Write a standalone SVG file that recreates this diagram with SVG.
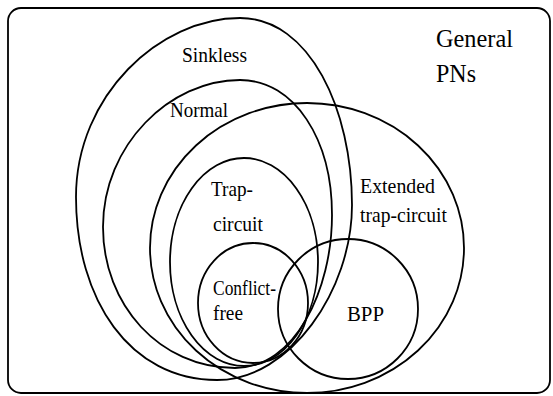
<svg xmlns="http://www.w3.org/2000/svg" width="553" height="396" viewBox="0 0 553 396">
<style>
.s{fill:none;stroke:#000;stroke-width:1.8}
.l{font-size:22px}
.g{font-size:26px}
</style>
<rect width="553" height="396" fill="#fff"/>
<g font-family="'Liberation Serif', 'Times New Roman', serif" fill="#000">
<g id="general">
<rect class="s" x="8" y="8" width="542" height="385" rx="13"/>
<text class="g" x="436" y="47" textLength="77" lengthAdjust="spacingAndGlyphs">General</text>
<text class="g" x="436" y="82" textLength="40" lengthAdjust="spacingAndGlyphs">PNs</text>
</g>
<g id="sinkless">
<path class="s" d="M240,18 C310,18 352,110 352,205 C352,290 290,380 217,380 C130,380 76,300 76,197 C76,95 160,18 240,18 Z"/>
<text class="l" x="182" y="62" textLength="65" lengthAdjust="spacingAndGlyphs">Sinkless</text>
</g>
<g id="normal">
<path class="s" d="M240,80 C295,80 332,140 332,215 C332,290 295,368 235,368 C160,368 103,305 103,227 C103,145 170,80 240,80 Z"/>
<text class="l" x="170" y="117" textLength="58" lengthAdjust="spacingAndGlyphs">Normal</text>
</g>
<g id="extended">
<ellipse class="s" cx="307" cy="248" rx="157" ry="145"/>
<text class="l" x="360" y="193" textLength="75" lengthAdjust="spacingAndGlyphs">Extended</text>
<text class="l" x="360" y="222" textLength="87" lengthAdjust="spacingAndGlyphs">trap-circuit</text>
</g>
<g id="trap-circuit">
<ellipse class="s" cx="244" cy="262" rx="74" ry="104"/>
<text class="l" x="211" y="196" textLength="42" lengthAdjust="spacingAndGlyphs">Trap-</text>
<text class="l" x="213" y="231" textLength="50" lengthAdjust="spacingAndGlyphs">circuit</text>
</g>
<g id="conflict-free">
<ellipse class="s" cx="253" cy="303" rx="55" ry="60"/>
<text class="l" x="213" y="295" textLength="63" lengthAdjust="spacingAndGlyphs">Conflict-</text>
<text class="l" x="213" y="320" textLength="30" lengthAdjust="spacingAndGlyphs">free</text>
</g>
<g id="bpp">
<ellipse class="s" cx="348" cy="309" rx="70" ry="70"/>
<text class="l" x="347" y="321" textLength="37" lengthAdjust="spacingAndGlyphs">BPP</text>
</g>
</g>
<g id="connectors"/>
</svg>
